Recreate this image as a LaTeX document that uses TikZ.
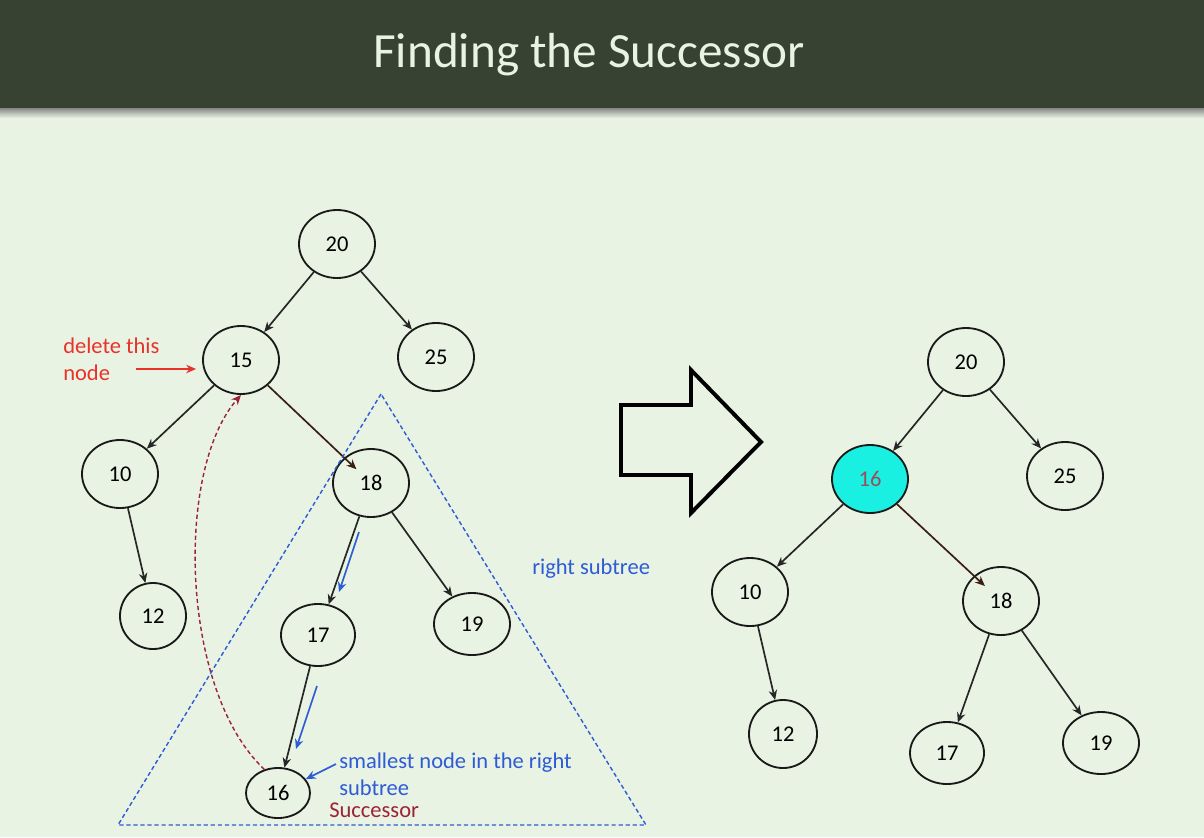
\documentclass[tikz,border=0pt]{standalone}
\usepackage{fontspec}
\setmainfont{Carlito}
\usetikzlibrary{shapes.geometric,arrows.meta}

\definecolor{barGreen}{HTML}{374232}
\definecolor{paleGreen}{HTML}{E8F3E3}
\definecolor{subBlue}{HTML}{2E5BD6}
\definecolor{delRed}{HTML}{E8322A}
\definecolor{succRed}{HTML}{9B2335}
\definecolor{keyCyan}{HTML}{19F0E2}
\definecolor{edgeBrown}{HTML}{3B1D14}

\tikzset{
  key/.style={ellipse,draw=black!90,line width=1.3pt,minimum width=1.9cm,minimum height=1.7cm,
    inner sep=0pt,font=\fontsize{16}{19}\selectfont},
  link/.style={->,line width=1.2pt,black!85},
  note/.style={anchor=west,align=left,inner sep=0pt,font=\fontsize{16}{19.5}\selectfont},
  dashline/.style={dash pattern=on 3pt off 2pt,line width=1pt},
}

\begin{document}
\begin{tikzpicture}[x=0.025cm,y=-0.025cm,>={Stealth[length=7pt,width=6pt]}]

    \useasboundingbox (0,0) rectangle (1204,837);

    % Fond et bandeau du titre
    \fill[paleGreen] (0,0) rectangle (1204,837);
    \shade[top color=black!55,bottom color=paleGreen] (0,106) rectangle (1204,118);
    \fill[barGreen] (0,0) rectangle (1204,108);
    \node[anchor=base,text=paleGreen,font=\fontsize{35}{40}\selectfont] (title) at (589,67) {Finding the Successor};

    % Arbre de gauche
    \node[key] (l20) at (337,244) {20};
    \node[key] (l15) at (241,360) {15};
    \node[key] (l25) at (436,357) {25};
    \node[key] (l10) at (120,474) {10};
    \node[key] (l18) at (371,483) {18};
    \node[key,minimum width=1.65cm,minimum height=1.65cm] (l12) at (153,616) {12};
    \node[key,minimum width=1.85cm,minimum height=1.55cm] (l17) at (318,635) {17};
    \node[key,minimum width=1.9cm,minimum height=1.55cm] (l19) at (472,624) {19};
    \node[key,minimum width=1.6cm,minimum height=1.25cm] (l16) at (278,793) {16};

    % Aretes de l'arbre de gauche
    \draw[link] (l20) -- (l15);
    \draw[link] (l20) -- (l25);
    \draw[link] (l15) -- (l10);
    \draw[link,edgeBrown,shorten >=0.5cm] (l15) -- (l18.center);
    \draw[link] (l10) -- (l12);
    \draw[link] (l18) -- (l17);
    \draw[link] (l18) -- (l19);
    \draw[link] (l17) -- (l16);

    % Sous-arbre droit
    \draw[subBlue,dashline] (381,394) -- (118,825) -- (646,825) -- cycle;
    \node[note,text=subBlue] (rightLabel) at (532,569) {right subtree};

    % Descente vers le plus petit noeud
    \coordinate (downA) at (359,532);
    \coordinate (downB) at (339,592);
    \coordinate (downC) at (317,686);
    \coordinate (downD) at (296,749);
    \draw[->,subBlue,line width=1.2pt] (downA) -- (downB);
    \draw[->,subBlue,line width=1.2pt] (downC) -- (downD);

    \node[note,text=subBlue] (smallLabel) at (339,774) {smallest node in the right\\subtree};
    \coordinate (pointStart) at (336,764);
    \draw[->,subBlue,line width=1.2pt] (pointStart) -- (l16);
    \node[note,text=succRed] (succLabel) at (329,810) {Successor};

    % Remontee du successeur
    \draw[->,succRed,dashline] (l16.120) .. controls (180,690) and (175,470) .. (l15.south);

    % Noeud a supprimer
    \node[note,text=delRed] (delLabel) at (63,359) {delete this\\node};
    \coordinate (delStart) at (136,369);
    \draw[->,delRed,line width=1.2pt,shorten >=0.15cm] (delStart) -- (delStart -| l15.west);

    % Grande fleche
    \draw[line width=2.8pt,line join=miter] (621,405) -- (691,405) -- (691,370) -- (761,442)
        -- (691,513) -- (691,475) -- (621,475) -- cycle;

    % Arbre de droite
    \node[key] (r20) at (966,362) {20};
    \node[key,fill=keyCyan,text={rgb,255:red,154;green,78;blue,92}] (r16) at (870,479) {16};
    \node[key] (r25) at (1065,476) {25};
    \node[key] (r10) at (750,592) {10};
    \node[key] (r18) at (1001,601) {18};
    \node[key,minimum width=1.7cm,minimum height=1.7cm] (r12) at (783,734) {12};
    \node[key,minimum width=1.85cm,minimum height=1.55cm] (r17) at (947,753) {17};
    \node[key,minimum width=1.9cm,minimum height=1.55cm] (r19) at (1101,743) {19};

    % Aretes de l'arbre de droite
    \draw[link] (r20) -- (r16);
    \draw[link] (r20) -- (r25);
    \draw[link] (r16) -- (r10);
    \draw[link,edgeBrown,shorten >=0.55cm] (r16) -- (r18.center);
    \draw[link] (r10) -- (r12);
    \draw[link] (r18) -- (r17);
    \draw[link] (r18) -- (r19);
\end{tikzpicture}
\end{document}
